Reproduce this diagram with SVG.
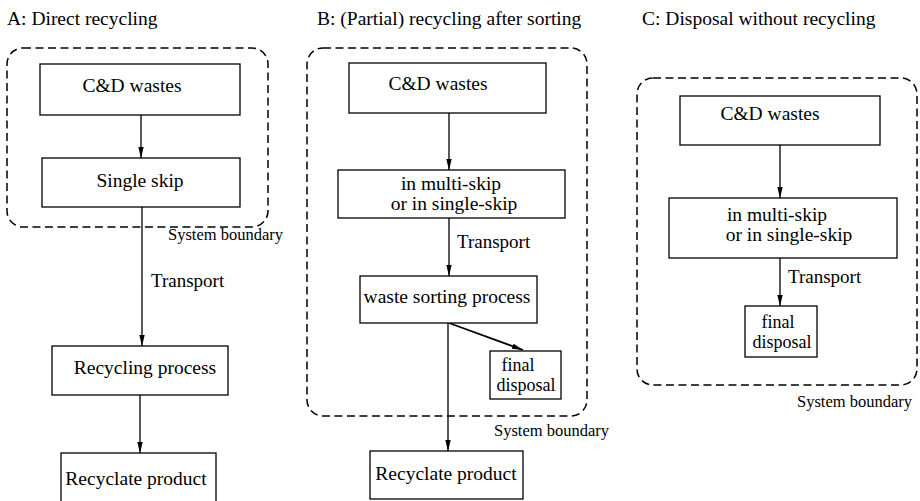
<svg xmlns="http://www.w3.org/2000/svg" width="920" height="501" viewBox="0 0 920 501">
  <defs>
    <marker id="arrow" markerUnits="userSpaceOnUse" markerWidth="12" markerHeight="7" refX="11" refY="3.5" orient="auto">
      <path d="M0,0.8 L11,3.5 L0,6.2 z" fill="#000"/>
    </marker>
  </defs>
  <style>
    text { font-family: "Liberation Serif", "Times New Roman", serif; fill: #000; }
    .title { font-size: 19.5px; }
    .lbl { font-size: 19.5px; text-anchor: middle; }
    .small { font-size: 18px; text-anchor: middle; }
    .edge { font-size: 19px; }
    .sb { font-size: 16.5px; }
    .box { fill: #fff; stroke: #000; stroke-width: 1.3; }
    .boundary { fill: none; stroke: #000; stroke-width: 1.5; stroke-dasharray: 8 4.5; }
    .conn { fill: none; stroke: #000; stroke-width: 1.3; marker-end: url(#arrow); }
  </style>
  <rect width="920" height="501" fill="#fff"/>

  <!-- column titles -->
  <text class="title" x="7" y="25">A: Direct recycling</text>
  <text class="title" x="317" y="25">B: (Partial) recycling after sorting</text>
  <text class="title" x="642" y="25">C: Disposal without recycling</text>

  <!-- system boundaries -->
  <g id="boundaries">
    <rect class="boundary" x="7" y="48" width="261" height="179" rx="16"/>
    <text class="sb" x="168" y="240">System boundary</text>
    <rect class="boundary" x="307" y="48" width="280" height="368" rx="16"/>
    <text class="sb" x="494" y="436">System boundary</text>
    <rect class="boundary" x="637" y="78" width="280" height="307" rx="16"/>
    <text class="sb" x="797" y="407">System boundary</text>
  </g>

  <!-- connectors -->
  <g id="connectors">
    <line class="conn" x1="141" y1="115" x2="141" y2="158"/>
    <line class="conn" x1="142" y1="207" x2="142" y2="346"/>
    <line class="conn" x1="140" y1="395" x2="140" y2="453"/>
    <text class="edge" x="151" y="287">Transport</text>

    <line class="conn" x1="449" y1="113" x2="449" y2="170"/>
    <line class="conn" x1="449" y1="218" x2="449" y2="276"/>
    <text class="edge" x="457" y="248">Transport</text>
    <line class="conn" x1="449" y1="323" x2="523" y2="350" style="stroke-width:1.8"/>
    <line class="conn" x1="448" y1="323" x2="448" y2="451"/>

    <line class="conn" x1="780" y1="145" x2="780" y2="198"/>
    <line class="conn" x1="780" y1="258" x2="780" y2="306"/>
    <text class="edge" x="788" y="283">Transport</text>
  </g>

  <!-- A: direct recycling -->
  <g id="a-wastes">
    <rect class="box" x="40" y="64" width="200" height="51"/>
    <text class="lbl" x="132" y="92">C&amp;D wastes</text>
  </g>
  <g id="a-skip">
    <rect class="box" x="42" y="158" width="198" height="49"/>
    <text class="lbl" x="140" y="187">Single skip</text>
  </g>
  <g id="a-recycling">
    <rect class="box" x="52" y="346" width="176" height="49"/>
    <text class="lbl" x="145" y="374">Recycling process</text>
  </g>
  <g id="a-product">
    <rect class="box" x="61" y="453" width="155" height="54"/>
    <text class="lbl" x="136" y="485">Recyclate product</text>
  </g>

  <!-- B: recycling after sorting -->
  <g id="b-wastes">
    <rect class="box" x="349" y="63" width="197" height="50"/>
    <text class="lbl" x="438" y="90">C&amp;D wastes</text>
  </g>
  <g id="b-skip">
    <rect class="box" x="338" y="170" width="227" height="48"/>
    <text class="lbl" x="451" y="190">in multi-skip</text>
    <text class="lbl" x="454" y="210">or in single-skip</text>
  </g>
  <g id="b-sorting">
    <rect class="box" x="360" y="276" width="177" height="47"/>
    <text class="lbl" x="447" y="303">waste sorting process</text>
  </g>
  <g id="b-disposal">
    <rect class="box" x="490" y="351" width="71" height="48"/>
    <text class="small" x="518" y="371">final</text>
    <text class="small" x="526" y="391">disposal</text>
  </g>
  <g id="b-product">
    <rect class="box" x="370" y="451" width="153" height="48"/>
    <text class="lbl" x="446" y="480">Recyclate product</text>
  </g>

  <!-- C: disposal without recycling -->
  <g id="c-wastes">
    <rect class="box" x="680" y="96" width="200" height="49"/>
    <text class="lbl" x="770" y="120">C&amp;D wastes</text>
  </g>
  <g id="c-skip">
    <rect class="box" x="669" y="198" width="228" height="60"/>
    <text class="lbl" x="777" y="221">in multi-skip</text>
    <text class="lbl" x="789" y="241">or in single-skip</text>
  </g>
  <g id="c-disposal">
    <rect class="box" x="745" y="306" width="72" height="51"/>
    <text class="small" x="778" y="328">final</text>
    <text class="small" x="782" y="348">disposal</text>
  </g>
</svg>
